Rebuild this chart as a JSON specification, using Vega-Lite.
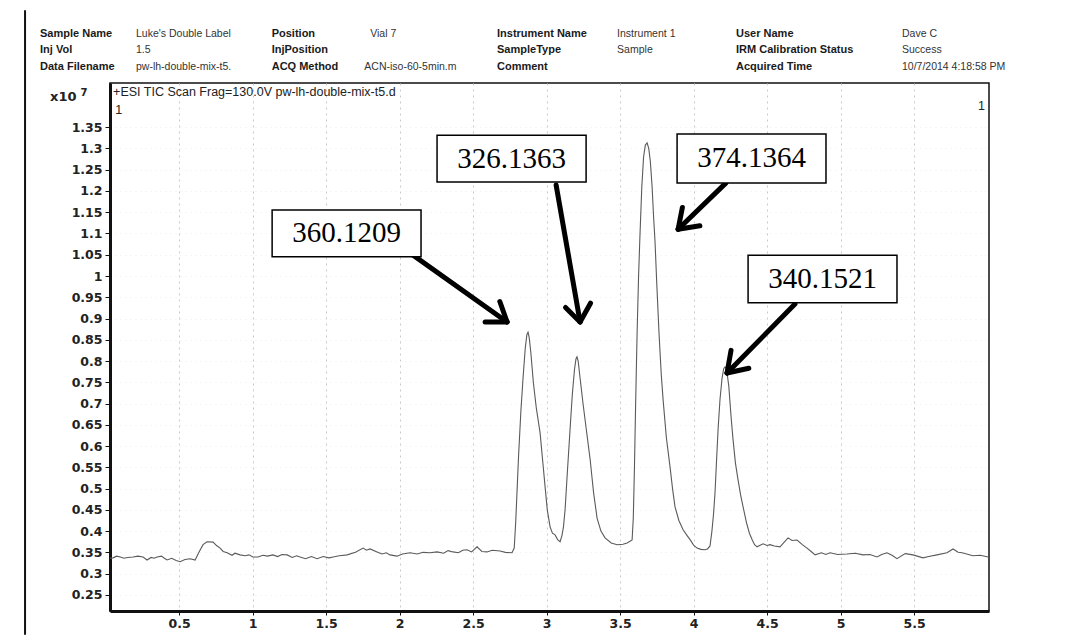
{
  "$schema": "https://vega.github.io/schema/vega-lite/v6.json",
  "width": 879,
  "height": 528,
  "autosize": {"type": "none"},
  "padding": {"left": 110, "top": 83, "right": 103, "bottom": 24},
  "background": "white",
  "config": {"view": {"stroke": "#111", "strokeWidth": 1.5}, "axis": {"labelOverlap": false, "labelBound": false}},
  "datasets": {
    "tic": [
      {"t": 0.03, "v": 0.336}, {"t": 0.051, "v": 0.337}, {"t": 0.075, "v": 0.341}, {"t": 0.10, "v": 0.339}, {"t": 0.125, "v": 0.336}, {"t": 0.15, "v": 0.338},
      {"t": 0.187, "v": 0.339}, {"t": 0.22, "v": 0.341}, {"t": 0.255, "v": 0.339}, {"t": 0.282, "v": 0.332},
      {"t": 0.31, "v": 0.338}, {"t": 0.33, "v": 0.336}, {"t": 0.35, "v": 0.339}, {"t": 0.38, "v": 0.341}, {"t": 0.40, "v": 0.336}, {"t": 0.418, "v": 0.332},
      {"t": 0.45, "v": 0.336}, {"t": 0.48, "v": 0.331}, {"t": 0.507, "v": 0.328}, {"t": 0.54, "v": 0.333},
      {"t": 0.575, "v": 0.335}, {"t": 0.609, "v": 0.332}, {"t": 0.635, "v": 0.35}, {"t": 0.663, "v": 0.368},
      {"t": 0.69, "v": 0.375}, {"t": 0.731, "v": 0.374}, {"t": 0.755, "v": 0.366}, {"t": 0.779, "v": 0.36},
      {"t": 0.80, "v": 0.352}, {"t": 0.827, "v": 0.349}, {"t": 0.86, "v": 0.343}, {"t": 0.88, "v": 0.348},
      {"t": 0.915, "v": 0.344}, {"t": 0.95, "v": 0.342}, {"t": 0.975, "v": 0.344}, {"t": 1.003, "v": 0.339}, {"t": 1.037, "v": 0.339},
      {"t": 1.07, "v": 0.343}, {"t": 1.10, "v": 0.341}, {"t": 1.139, "v": 0.344}, {"t": 1.17, "v": 0.34},
      {"t": 1.20, "v": 0.345}, {"t": 1.235, "v": 0.344}, {"t": 1.27, "v": 0.338}, {"t": 1.30, "v": 0.342},
      {"t": 1.323, "v": 0.339}, {"t": 1.36, "v": 0.335}, {"t": 1.40, "v": 0.34}, {"t": 1.439, "v": 0.335},
      {"t": 1.48, "v": 0.34}, {"t": 1.52, "v": 0.337}, {"t": 1.548, "v": 0.339}, {"t": 1.59, "v": 0.342},
      {"t": 1.643, "v": 0.344}, {"t": 1.70, "v": 0.35}, {"t": 1.752, "v": 0.36}, {"t": 1.775, "v": 0.355},
      {"t": 1.799, "v": 0.358}, {"t": 1.847, "v": 0.351}, {"t": 1.88, "v": 0.346}, {"t": 1.91, "v": 0.349},
      {"t": 1.935, "v": 0.344}, {"t": 1.983, "v": 0.341}, {"t": 2.02, "v": 0.346}, {"t": 2.071, "v": 0.349},
      {"t": 2.12, "v": 0.346}, {"t": 2.16, "v": 0.35}, {"t": 2.207, "v": 0.349}, {"t": 2.255, "v": 0.351},
      {"t": 2.30, "v": 0.348}, {"t": 2.33, "v": 0.354}, {"t": 2.364, "v": 0.351}, {"t": 2.40, "v": 0.349},
      {"t": 2.43, "v": 0.355}, {"t": 2.459, "v": 0.356}, {"t": 2.49, "v": 0.351}, {"t": 2.527, "v": 0.363},
      {"t": 2.56, "v": 0.352}, {"t": 2.595, "v": 0.351}, {"t": 2.63, "v": 0.355}, {"t": 2.684, "v": 0.353},
      {"t": 2.72, "v": 0.35}, {"t": 2.765, "v": 0.349}, {"t": 2.78, "v": 0.36}, {"t": 2.79, "v": 0.42},
      {"t": 2.80, "v": 0.5}, {"t": 2.81, "v": 0.58}, {"t": 2.825, "v": 0.68}, {"t": 2.84, "v": 0.76},
      {"t": 2.855, "v": 0.83}, {"t": 2.866, "v": 0.862}, {"t": 2.874, "v": 0.868}, {"t": 2.882, "v": 0.855},
      {"t": 2.893, "v": 0.82}, {"t": 2.91, "v": 0.75}, {"t": 2.93, "v": 0.69}, {"t": 2.956, "v": 0.631},
      {"t": 2.975, "v": 0.56}, {"t": 2.99, "v": 0.504}, {"t": 3.005, "v": 0.45}, {"t": 3.024, "v": 0.41},
      {"t": 3.04, "v": 0.395}, {"t": 3.058, "v": 0.391}, {"t": 3.075, "v": 0.38}, {"t": 3.092, "v": 0.375},
      {"t": 3.105, "v": 0.39}, {"t": 3.115, "v": 0.41}, {"t": 3.126, "v": 0.45}, {"t": 3.14, "v": 0.53},
      {"t": 3.16, "v": 0.64}, {"t": 3.175, "v": 0.72}, {"t": 3.19, "v": 0.78}, {"t": 3.2, "v": 0.805},
      {"t": 3.207, "v": 0.81}, {"t": 3.215, "v": 0.8}, {"t": 3.228, "v": 0.76}, {"t": 3.248, "v": 0.7},
      {"t": 3.27, "v": 0.64}, {"t": 3.296, "v": 0.57}, {"t": 3.32, "v": 0.49}, {"t": 3.344, "v": 0.43},
      {"t": 3.37, "v": 0.4}, {"t": 3.398, "v": 0.384}, {"t": 3.44, "v": 0.372}, {"t": 3.48, "v": 0.368},
      {"t": 3.52, "v": 0.369}, {"t": 3.548, "v": 0.372}, {"t": 3.582, "v": 0.379}, {"t": 3.59, "v": 0.43},
      {"t": 3.598, "v": 0.55}, {"t": 3.606, "v": 0.7}, {"t": 3.616, "v": 0.866}, {"t": 3.626, "v": 1.0},
      {"t": 3.636, "v": 1.101}, {"t": 3.648, "v": 1.21}, {"t": 3.66, "v": 1.28}, {"t": 3.672, "v": 1.308},
      {"t": 3.684, "v": 1.313}, {"t": 3.695, "v": 1.3}, {"t": 3.706, "v": 1.27}, {"t": 3.718, "v": 1.21},
      {"t": 3.728, "v": 1.14}, {"t": 3.738, "v": 1.08}, {"t": 3.75, "v": 0.98}, {"t": 3.765, "v": 0.866},
      {"t": 3.78, "v": 0.77}, {"t": 3.793, "v": 0.708}, {"t": 3.815, "v": 0.62}, {"t": 3.84, "v": 0.551},
      {"t": 3.857, "v": 0.5}, {"t": 3.874, "v": 0.457}, {"t": 3.9, "v": 0.425}, {"t": 3.929, "v": 0.403},
      {"t": 3.955, "v": 0.39}, {"t": 3.98, "v": 0.378}, {"t": 4.0, "v": 0.367}, {"t": 4.024, "v": 0.36},
      {"t": 4.05, "v": 0.357}, {"t": 4.078, "v": 0.356}, {"t": 4.095, "v": 0.358}, {"t": 4.112, "v": 0.365},
      {"t": 4.125, "v": 0.4}, {"t": 4.136, "v": 0.44}, {"t": 4.146, "v": 0.49}, {"t": 4.157, "v": 0.57},
      {"t": 4.167, "v": 0.64}, {"t": 4.18, "v": 0.71}, {"t": 4.194, "v": 0.76}, {"t": 4.205, "v": 0.782},
      {"t": 4.214, "v": 0.786}, {"t": 4.225, "v": 0.78}, {"t": 4.24, "v": 0.74}, {"t": 4.255, "v": 0.67},
      {"t": 4.269, "v": 0.614}, {"t": 4.285, "v": 0.56}, {"t": 4.303, "v": 0.52}, {"t": 4.32, "v": 0.485},
      {"t": 4.337, "v": 0.457}, {"t": 4.36, "v": 0.42}, {"t": 4.38, "v": 0.395}, {"t": 4.398, "v": 0.38},
      {"t": 4.415, "v": 0.368}, {"t": 4.432, "v": 0.363},
      {"t": 4.473, "v": 0.37}, {"t": 4.50, "v": 0.366}, {"t": 4.52, "v": 0.368}, {"t": 4.55, "v": 0.365}, {"t": 4.588, "v": 0.363}, {"t": 4.643, "v": 0.384},
      {"t": 4.67, "v": 0.378}, {"t": 4.704, "v": 0.379}, {"t": 4.74, "v": 0.368}, {"t": 4.772, "v": 0.36}, {"t": 4.8, "v": 0.352}, {"t": 4.827, "v": 0.344},
      {"t": 4.87, "v": 0.349}, {"t": 4.9, "v": 0.345}, {"t": 4.929, "v": 0.349}, {"t": 4.98, "v": 0.345}, {"t": 5.044, "v": 0.346},
      {"t": 5.10, "v": 0.348}, {"t": 5.153, "v": 0.344}, {"t": 5.20, "v": 0.345}, {"t": 5.248, "v": 0.339},
      {"t": 5.28, "v": 0.345}, {"t": 5.316, "v": 0.349}, {"t": 5.35, "v": 0.343}, {"t": 5.384, "v": 0.335}, {"t": 5.44, "v": 0.347},
      {"t": 5.493, "v": 0.344}, {"t": 5.561, "v": 0.337}, {"t": 5.60, "v": 0.34}, {"t": 5.656, "v": 0.344},
      {"t": 5.724, "v": 0.349}, {"t": 5.765, "v": 0.358}, {"t": 5.80, "v": 0.35}, {"t": 5.827, "v": 0.349},
      {"t": 5.87, "v": 0.345}, {"t": 5.901, "v": 0.342}, {"t": 5.95, "v": 0.343}, {"t": 6.003, "v": 0.339}
    ],
    "arrows": [
      {"x1": 2.092, "y1": 1.049, "x2": 2.731, "y2": 0.892},
      {"x1": 2.682, "y1": 0.94, "x2": 2.731, "y2": 0.892},
      {"x1": 2.582, "y1": 0.892, "x2": 2.731, "y2": 0.892},
      {"x1": 3.065, "y1": 1.214, "x2": 3.228, "y2": 0.892},
      {"x1": 3.299, "y1": 0.936, "x2": 3.228, "y2": 0.892},
      {"x1": 3.129, "y1": 0.926, "x2": 3.228, "y2": 0.892},
      {"x1": 4.221, "y1": 1.219, "x2": 3.895, "y2": 1.11},
      {"x1": 4.043, "y1": 1.118, "x2": 3.895, "y2": 1.11},
      {"x1": 3.924, "y1": 1.161, "x2": 3.895, "y2": 1.11},
      {"x1": 4.69, "y1": 0.934, "x2": 4.228, "y2": 0.772},
      {"x1": 4.376, "y1": 0.783, "x2": 4.228, "y2": 0.772},
      {"x1": 4.255, "y1": 0.825, "x2": 4.228, "y2": 0.772}
    ],
    "boxes": [
      {"label": "360.1209", "x1": 1.133, "x2": 2.146, "y1": 1.155, "y2": 1.045},
      {"label": "326.1363", "x1": 2.255, "x2": 3.269, "y1": 1.331, "y2": 1.221},
      {"label": "374.1364", "x1": 3.888, "x2": 4.901, "y1": 1.334, "y2": 1.219},
      {"label": "340.1521", "x1": 4.371, "x2": 5.384, "y1": 1.049, "y2": 0.937}
    ],
    "headKeys": [
      {"text": "Sample Name", "x": -0.446, "y": 1.569},
      {"text": "Inj Vol", "x": -0.446, "y": 1.531},
      {"text": "Data Filename", "x": -0.446, "y": 1.491},
      {"text": "Position", "x": 1.13, "y": 1.569},
      {"text": "InjPosition", "x": 1.13, "y": 1.531},
      {"text": "ACQ Method", "x": 1.13, "y": 1.491},
      {"text": "Instrument Name", "x": 2.663, "y": 1.569},
      {"text": "SampleType", "x": 2.663, "y": 1.531},
      {"text": "Comment", "x": 2.663, "y": 1.491},
      {"text": "User Name", "x": 4.289, "y": 1.569},
      {"text": "IRM Calibration Status", "x": 4.289, "y": 1.531},
      {"text": "Acquired Time", "x": 4.289, "y": 1.491}
    ],
    "headVals": [
      {"text": "Luke's Double Label", "x": 0.207, "y": 1.569},
      {"text": "1.5", "x": 0.207, "y": 1.531},
      {"text": "pw-lh-double-mix-t5.", "x": 0.207, "y": 1.491},
      {"text": "Vial 7", "x": 1.8, "y": 1.569},
      {"text": "ACN-iso-60-5min.m", "x": 1.76, "y": 1.491},
      {"text": "Instrument 1", "x": 3.48, "y": 1.569},
      {"text": "Sample", "x": 3.48, "y": 1.531},
      {"text": "Dave C", "x": 5.418, "y": 1.569},
      {"text": "Success", "x": 5.418, "y": 1.531},
      {"text": "10/7/2014 4:18:58 PM", "x": 5.418, "y": 1.491}
    ],
    "notes": [
      {"text": "+ESI TIC Scan Frag=130.0V pw-lh-double-mix-t5.d", "x": 0.051, "y": 1.433},
      {"text": "1", "x": 0.065, "y": 1.39},
      {"text": "1", "x": 5.935, "y": 1.4}
    ],
    "scaleNote": [{"text": "x10", "x": -0.378, "y": 1.421}],
    "sup": [{"text": "7", "x": -0.17, "y": 1.43}],
    "edge": [{"x": -0.548, "y1": 1.625, "y2": 0.156}]
  },
  "layer": [
    {
      "data": {"name": "tic"},
      "mark": {"type": "line", "color": "#5a5a5a", "strokeWidth": 1.1},
      "encoding": {
        "x": {
          "field": "t", "type": "quantitative", "title": null,
          "scale": {"domain": [0.03, 6.01], "nice": false, "zero": false},
          "axis": {
            "title": null, "values": [0.5, 1, 1.5, 2, 2.5, 3, 3.5, 4, 4.5, 5, 5.5], "format": ".1~f", "tickCount": 40,
            "labelOverlap": false, "tickSize": 4, "tickColor": "#111", "labelPadding": 2, "domainWidth": 3, "domainColor": "#111",
            "grid": true, "gridColor": "#c8c8c8", "gridDash": [2, 4], "labelFont": "DejaVu Sans",
            "labelFontSize": 12.5, "labelColor": "#222", "labelFontWeight": "bold"
          }
        },
        "y": {
          "field": "v", "type": "quantitative", "title": null,
          "scale": {"domain": [0.212, 1.454], "nice": false, "zero": false},
          "axis": {
            "title": null,
            "values": [0.25, 0.3, 0.35, 0.4, 0.45, 0.5, 0.55, 0.6, 0.65, 0.7, 0.75, 0.8, 0.85, 0.9, 0.95, 1, 1.05, 1.1, 1.15, 1.2, 1.25, 1.3, 1.35],
            "tickCount": 40,
            "format": ".2~f", "labelOverlap": false, "tickSize": 5, "tickColor": "#111", "labelPadding": 3, "domainWidth": 3,
            "domainColor": "#111", "grid": true, "gridColor": "#ececec", "gridDash": [1, 4],
            "labelFont": "DejaVu Sans", "labelFontSize": 12.5, "labelColor": "#222", "labelFontWeight": "bold"
          }
        }
      }
    },
    {
      "data": {"name": "arrows"},
      "mark": {"type": "rule", "color": "black", "strokeWidth": 5, "strokeCap": "round"},
      "encoding": {
        "x": {"field": "x1", "type": "quantitative", "title": null},
        "y": {"field": "y1", "type": "quantitative", "title": null},
        "x2": {"field": "x2"},
        "y2": {"field": "y2"}
      }
    },
    {
      "data": {"name": "boxes"},
      "mark": {"type": "rect", "fill": "white", "stroke": "black", "strokeWidth": 1.5},
      "encoding": {
        "x": {"field": "x1", "type": "quantitative", "title": null},
        "x2": {"field": "x2"},
        "y": {"field": "y1", "type": "quantitative", "title": null},
        "y2": {"field": "y2"}
      }
    },
    {
      "data": {"name": "boxes"},
      "transform": [{"calculate": "(datum.x1 + datum.x2) / 2", "as": "xm"}, {"calculate": "(datum.y1 + datum.y2) / 2", "as": "ym"}],
      "mark": {"type": "text", "font": "Liberation Serif", "fontSize": 29, "color": "black", "align": "center", "baseline": "middle"},
      "encoding": {
        "x": {"field": "xm", "type": "quantitative", "title": null},
        "y": {"field": "ym", "type": "quantitative", "title": null},
        "text": {"field": "label"}
      }
    },
    {
      "data": {"name": "headKeys"},
      "mark": {"type": "text", "font": "Liberation Sans", "fontSize": 11, "fontWeight": "bold", "color": "#1a1a1a", "align": "left", "baseline": "middle"},
      "encoding": {
        "x": {"field": "x", "type": "quantitative", "title": null},
        "y": {"field": "y", "type": "quantitative", "title": null},
        "text": {"field": "text"}
      }
    },
    {
      "data": {"name": "headVals"},
      "mark": {"type": "text", "font": "Liberation Sans", "fontSize": 10.5, "color": "#333", "align": "left", "baseline": "middle"},
      "encoding": {
        "x": {"field": "x", "type": "quantitative", "title": null},
        "y": {"field": "y", "type": "quantitative", "title": null},
        "text": {"field": "text"}
      }
    },
    {
      "data": {"name": "notes"},
      "mark": {"type": "text", "font": "Liberation Sans", "fontSize": 12.5, "color": "#222", "align": "left", "baseline": "middle"},
      "encoding": {
        "x": {"field": "x", "type": "quantitative", "title": null},
        "y": {"field": "y", "type": "quantitative", "title": null},
        "text": {"field": "text"}
      }
    },
    {
      "data": {"name": "scaleNote"},
      "mark": {"type": "text", "font": "DejaVu Sans", "fontSize": 13, "fontWeight": "bold", "color": "#222", "align": "left", "baseline": "middle"},
      "encoding": {
        "x": {"field": "x", "type": "quantitative", "title": null},
        "y": {"field": "y", "type": "quantitative", "title": null},
        "text": {"field": "text"}
      }
    },
    {
      "data": {"name": "sup"},
      "mark": {"type": "text", "font": "DejaVu Sans", "fontSize": 10, "fontWeight": "bold", "color": "#222", "align": "left", "baseline": "middle"},
      "encoding": {
        "x": {"field": "x", "type": "quantitative", "title": null},
        "y": {"field": "y", "type": "quantitative", "title": null},
        "text": {"field": "text"}
      }
    },
    {
      "data": {"name": "edge"},
      "mark": {"type": "rule", "color": "#111", "strokeWidth": 2},
      "encoding": {
        "x": {"field": "x", "type": "quantitative", "title": null},
        "y": {"field": "y1", "type": "quantitative", "title": null},
        "y2": {"field": "y2"}
      }
    }
  ]
}
